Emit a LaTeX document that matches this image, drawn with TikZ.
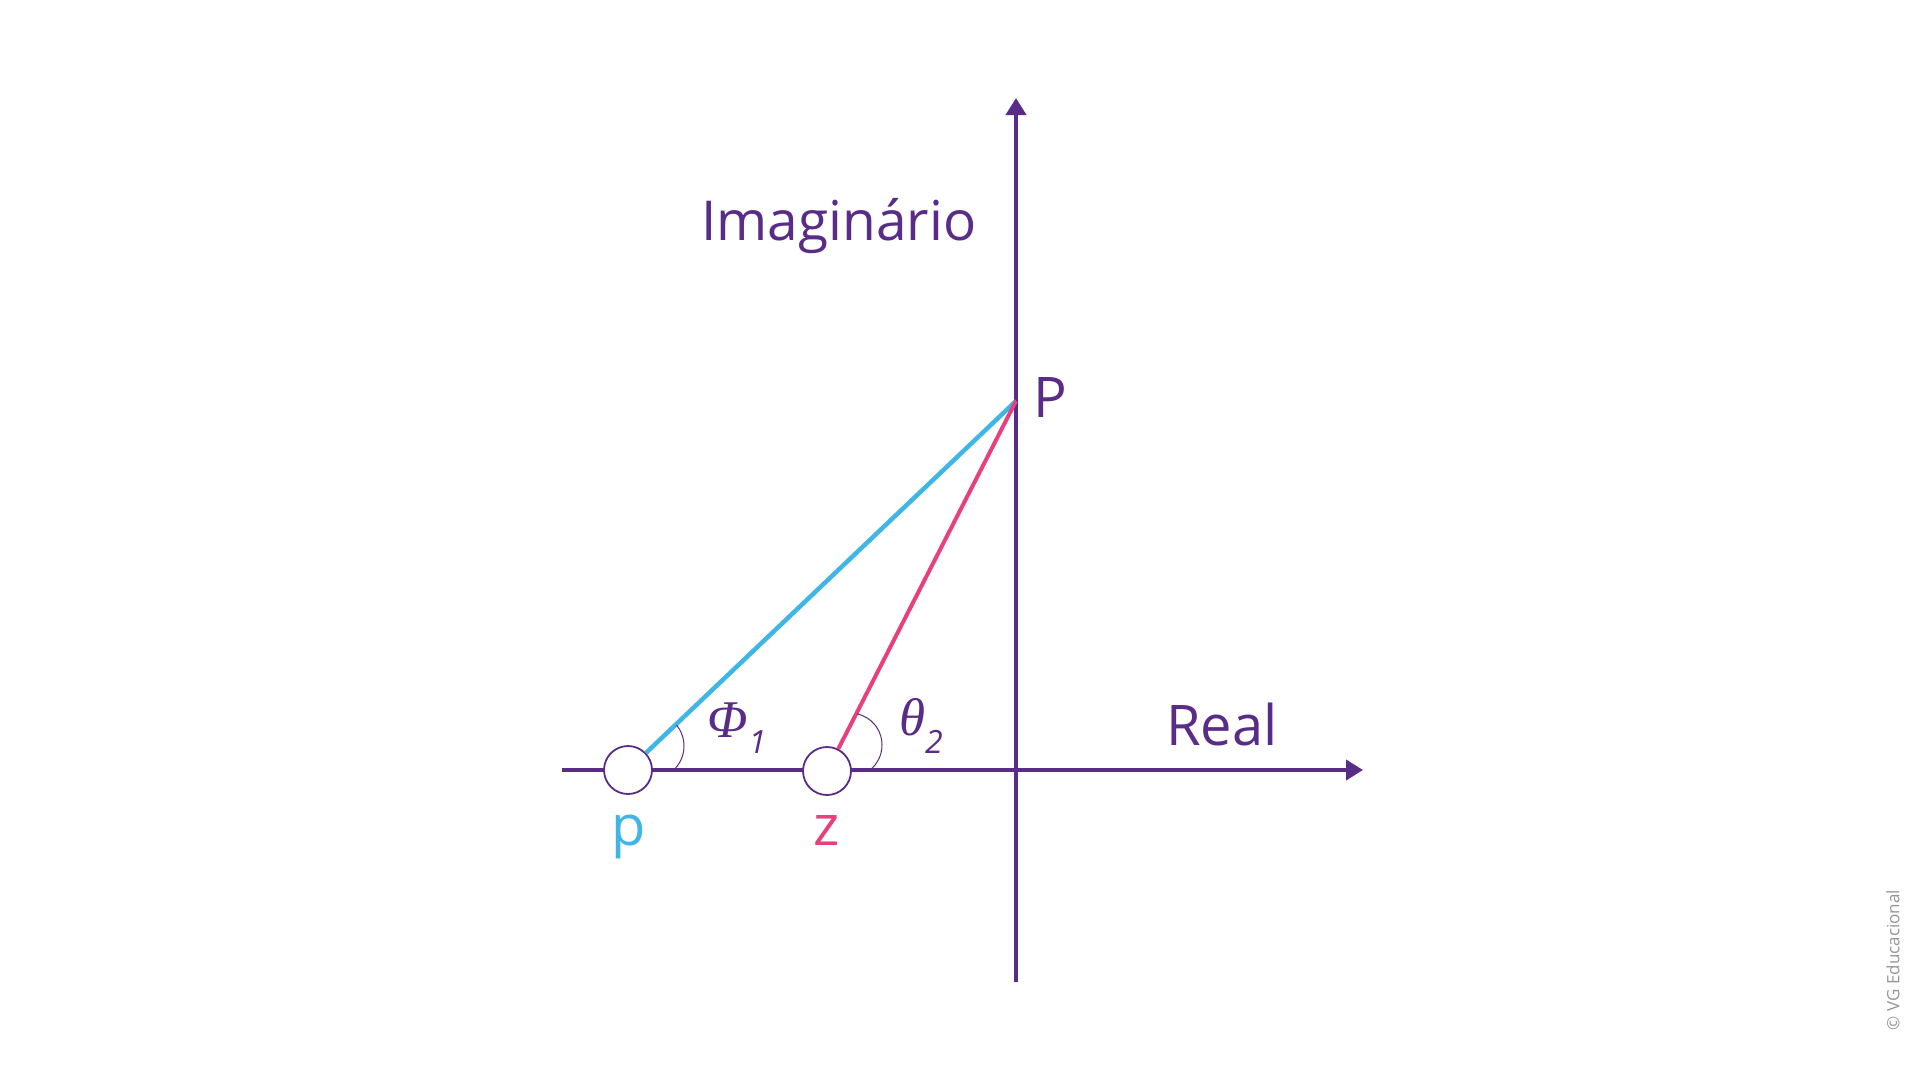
\documentclass[tikz,border=0pt]{standalone}
\usepackage{fontspec}
\setmainfont{Open Sans}
\newfontfamily\greekit{Liberation Serif}
\usetikzlibrary{arrows.meta}
\definecolor{vgpurple}{RGB}{89,44,136}
\definecolor{vgblue}{RGB}{64,182,230}
\definecolor{vgpink}{RGB}{232,64,125}
\definecolor{vggray}{RGB}{150,150,150}
\begin{document}
\begin{tikzpicture}[x=1pt,y=-1pt,
  axis/.style={draw=vgpurple,line width=4pt},
  pole/.style={circle,draw=vgpurple,fill=white,line width=1.8pt,minimum size=48pt,inner sep=0pt},
  bline/.style={draw=vgblue,line width=4.5pt},
  pline/.style={draw=vgpink,line width=4pt},
  anglearc/.style={draw=vgpurple,line width=1pt},
  lbl/.style={inner sep=0pt,anchor=base west,font=\fontsize{56}{60}\selectfont},
  greek/.style={inner sep=0pt,anchor=base west,text=vgpurple,font=\fontsize{53}{56}\selectfont\greekit\itshape}]
\useasboundingbox (0,0) rectangle (1920,1080);
\fill[white] (0,0) rectangle (1920,1080);
% axes
\coordinate (xl) at (562,770);
\coordinate (xr) at (1363,770);
\coordinate (yb) at (1016,982);
\coordinate (yt) at (1016,98);
\coordinate (P) at (1016,401);
\draw[axis,-{Triangle[length=17pt,width=20pt]}] (xl) -- (xr);
\draw[axis,-{Triangle[length=17pt,width=20pt]}] (yb) -- (yt);
% pole and zero
\node[pole] (p) at (628,770) {};
\node[pole] (z) at (827,771) {};
\draw[bline] (p) -- (P);
\draw[pline] (z) -- (P);
% angle marks
\draw[anglearc] (651,746) ++(49:33) arc[start angle=49,end angle=-39,radius=33];
\draw[anglearc] (850,745) ++(50:32) arc[start angle=50,end angle=-77,radius=32];
% labels
\node[lbl,text=vgpurple,font=\fontsize{55}{60}\selectfont] (im) at (701,240) {Imaginário};
\node[lbl,text=vgpurple] (Pl) at (1033,417) {P};
\node[lbl,text=vgpurple] (re) at (1166,745) {Real};
\node[lbl,text=vgblue,anchor=base] (pl) at (629,845) {p};
\node[lbl,text=vgpink,anchor=base] (zl) at (827,845) {z};
\node[greek] (phi) at (707,737) {Φ\hspace{1pt}\raisebox{-16pt}{\fontsize{32}{34}\selectfont\normalfont\itshape 1}};
\node[greek] (theta) at (899,735) {θ\hspace{0pt}\raisebox{-18pt}{\fontsize{32}{34}\selectfont\normalfont\itshape 2}};
\node[inner sep=0pt,rotate=90,text=vggray,font=\fontsize{17}{19}\selectfont] (cr) at (1893,960) {© VG Educacional};
\end{tikzpicture}
\end{document}
